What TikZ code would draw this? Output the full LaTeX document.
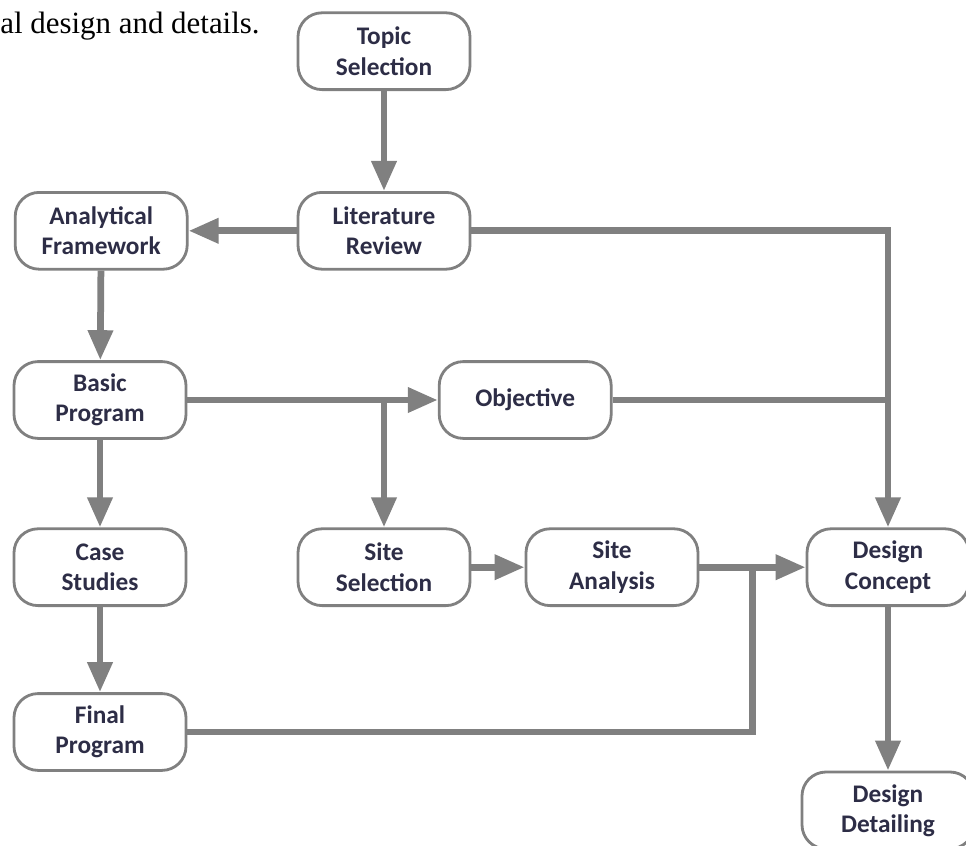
\documentclass[tikz,border=0pt]{standalone}
\usepackage{fontspec}
\setmainfont{Liberation Serif}
\newfontfamily\stagefont{Carlito}
\usepackage{xcolor}
\usepackage{tikz}
\usetikzlibrary{arrows.meta, calc}
\definecolor{flow-gray}{RGB}{128,128,128}
\definecolor{stage-text}{RGB}{45,45,70}
\tikzset{
    stage/.style = {draw=flow-gray, line width=2pt, fill=white,
        rounded corners=0.6cm, minimum width=4.3cm, minimum height=1.92cm,
        inner sep=0pt, align=center, text=stage-text,
        font=\stagefont\bfseries\fontsize{18}{21.5}\selectfont},
    flow/.style = {draw=flow-gray, line width=4.8pt},
    flowarrow/.style = {flow, -{Triangle[length=0.75cm,width=0.6cm]}}
}

\begin{document}
\begin{tikzpicture}
\useasboundingbox (0,0) rectangle (24.15,-21.15);

\node (caption) [anchor=base west, inner sep=0pt,
    font=\fontsize{22}{26}\selectfont] at (0,-0.83) {al design and details.};

\node (topic)      [stage] at (9.6,-1.28)   {Topic\\Selection};
\node (review)     [stage] at (9.6,-5.77)   {Literature\\Review};
\node (framework)  [stage] at (2.53,-5.77)  {Analytical\\Framework};
\node (basic)      [stage] at (2.5,-10)     {Basic\\Program};
\node (objective)  [stage] at (13.13,-10)   {Objective};
\node (cases)      [stage] at (2.5,-14.18)  {Case\\Studies};
\node (selection)  [stage] at (9.6,-14.18)  {Site\\Selection};
\node (analysis)   [stage] at (15.3,-14.18) {Site\\Analysis};
\node (concept)    [stage, minimum width=4.05cm] at (22.2,-14.18) {Design\\Concept};
\node (final)      [stage] at (2.5,-18.3)   {Final\\Program};
\node (detailing)  [stage] at (22.2,-20.26) {Design\\Detailing};

\coordinate (meet)  at (objective.east -| concept.north);
\coordinate (split) at (basic.east -| selection.north);
\coordinate (merge) at ($(analysis.east)!0.5!(concept.west)$);

\draw[flowarrow] (topic) -- (review);
\draw[flowarrow] (review) -- (framework);
\draw[flowarrow] (review.east) -| (concept.north);
\draw[flow] (objective.east) -- (meet);
\draw[flowarrow] (framework) -- (basic);
\draw[flowarrow] (basic.east) -- (objective.west);
\draw[flowarrow] (split) -- (selection.north);
\draw[flowarrow] (basic) -- (cases);
\draw[flowarrow] (cases) -- (final);
\draw[flowarrow] (selection) -- (analysis);
\draw[flowarrow] (analysis) -- (concept);
\draw[flow] (final.east) -| (merge);
\draw[flowarrow] (concept) -- (detailing);
\end{tikzpicture}
\end{document}
